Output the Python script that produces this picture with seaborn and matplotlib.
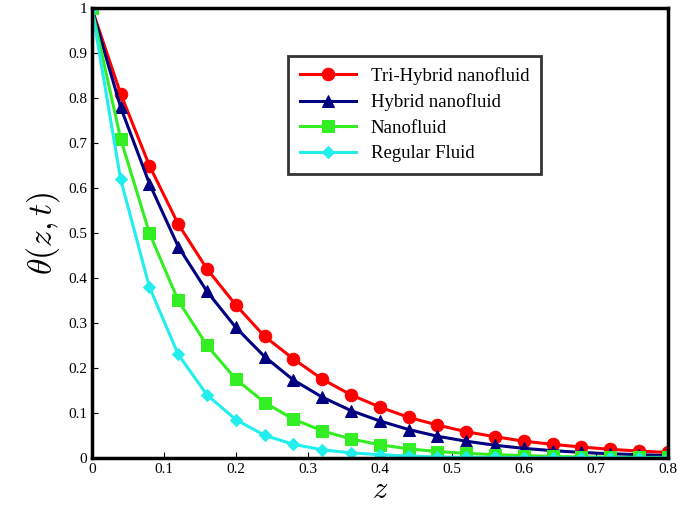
import numpy as np
import pandas as pd
import matplotlib
matplotlib.use("Agg")
import matplotlib.pyplot as plt
import seaborn as sns

z = [0.0, 0.04, 0.08, 0.12, 0.16, 0.20, 0.24, 0.28, 0.32, 0.36, 0.40,
     0.44, 0.48, 0.52, 0.56, 0.60, 0.64, 0.68, 0.72, 0.76, 0.80]
tri_hybrid = [1.0, 0.81, 0.65, 0.52, 0.42, 0.34, 0.27, 0.22, 0.175, 0.14, 0.113,
              0.09, 0.073, 0.058, 0.047, 0.037, 0.030, 0.024, 0.019, 0.015, 0.012]
hybrid = [1.0, 0.78, 0.61, 0.47, 0.37, 0.29, 0.225, 0.173, 0.135, 0.105, 0.082,
          0.063, 0.048, 0.037, 0.028, 0.021, 0.016, 0.012, 0.009, 0.007, 0.005]
nanofluid = [1.0, 0.71, 0.50, 0.35, 0.25, 0.175, 0.123, 0.086, 0.060, 0.042, 0.029,
             0.020, 0.014, 0.010, 0.007, 0.005, 0.003, 0.002, 0.0015, 0.001, 0.001]
regular = [1.0, 0.62, 0.38, 0.23, 0.14, 0.085, 0.050, 0.030, 0.018, 0.011, 0.007,
           0.004, 0.002, 0.001, 0.0008, 0.0005, 0.0003, 0.0002, 0.0001, 0.0001, 0.0]

series = [
    ("Tri-Hybrid nanofluid", tri_hybrid, "#ff0000", "o"),
    ("Hybrid nanofluid", hybrid, "#000080", "^"),
    ("Nanofluid", nanofluid, "#33ee22", "s"),
    ("Regular Fluid", regular, "#22eeee", "D"),
]

plt.rcParams["font.family"] = "Liberation Serif"
plt.rcParams["mathtext.fontset"] = "cm"

fig = plt.figure(figsize=(6.85, 5.15), dpi=100)
ax = fig.add_axes([0.134, 0.111, 0.841, 0.873])

for name, vals, col, mk in series:
    df = pd.DataFrame({"z": z, "theta": vals})
    ms = 9 if mk != "D" else 6
    sns.lineplot(data=df, x="z", y="theta", ax=ax, color=col, marker=mk,
                 markersize=ms, markeredgecolor=col, linewidth=2.2, label=name)

ax.set_xlim(0, 0.8)
ax.set_ylim(0, 1)
ax.set_xticks(np.arange(0, 0.81, 0.1))
ax.set_yticks(np.arange(0, 1.01, 0.1))
ax.set_xticklabels(["0", "0.1", "0.2", "0.3", "0.4", "0.5", "0.6", "0.7", "0.8"])
ax.set_yticklabels(["0", "0.1", "0.2", "0.3", "0.4", "0.5", "0.6", "0.7", "0.8", "0.9", "1"])
ax.tick_params(direction="in", labelsize=11, length=4)
for s in ax.spines.values():
    s.set_linewidth(2.5)
ax.set_xlabel(r"$z$", fontsize=22, labelpad=0)
ax.set_ylabel(r"$\theta(z,t)$", fontsize=24)

leg = ax.legend(loc="upper left", bbox_to_anchor=(0.325, 0.915), fontsize=13.5,
                frameon=True, fancybox=False, edgecolor="black",
                handlelength=3, borderpad=0.6, labelspacing=0.45)
leg.get_frame().set_linewidth(2)

fig.savefig("out.png", dpi=100)
